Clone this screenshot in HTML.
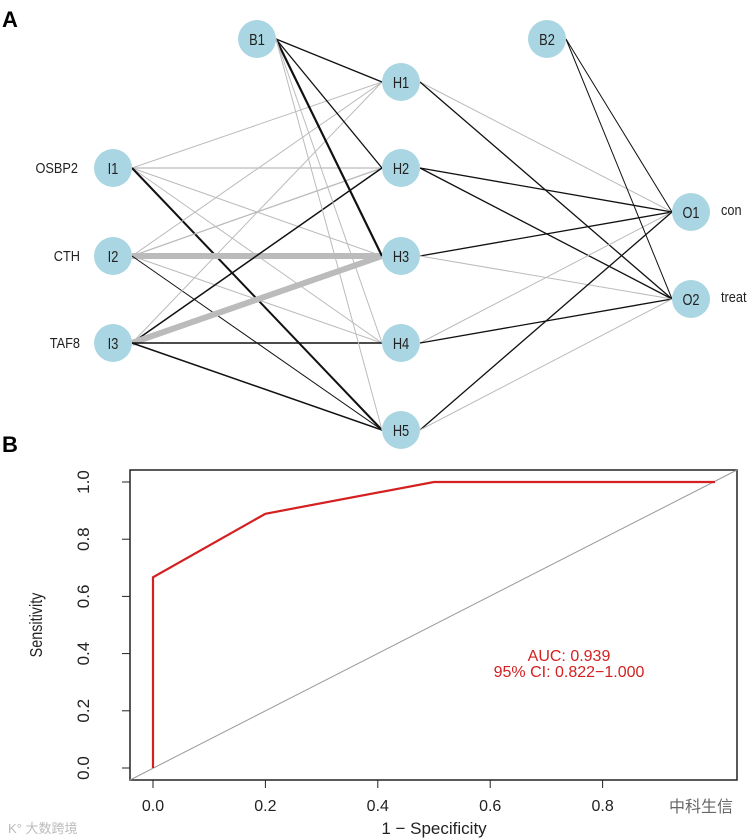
<!DOCTYPE html>
<html><head><meta charset="utf-8">
<style>
body{margin:0;background:#fff;}
svg{display:block;font-family:"Liberation Sans",Arial,sans-serif;}
</style></head>
<body>
<svg id="fig" width="754" height="840" viewBox="0 0 754 840" xmlns="http://www.w3.org/2000/svg">
<text x="2" y="27" font-size="22" font-weight="bold">A</text>
<text x="2" y="452" font-size="22" font-weight="bold">B</text>
<g id="net"></g>
<g id="roc"></g>
<text x="669" y="812" font-size="16" fill="#666" font-family="'Liberation Sans','Noto Sans CJK SC',sans-serif">中科生信</text>
<text x="8" y="833" font-size="13" fill="#bbb" font-family="'Liberation Sans','Noto Sans CJK SC',sans-serif">K° 大数跨境</text>
</svg>
<script>
const NS="http://www.w3.org/2000/svg";
function mk(tag,attrs,parent){const e=document.createElementNS(NS,tag);for(const k in attrs)e.setAttribute(k,attrs[k]);parent.appendChild(e);return e;}
const nodeNames=["I1","I2","I3","B1","H1","H2","H3","H4","H5","B2","O1","O2"];
const nodeX=[113,113,113,257,401,401,401,401,401,547,691,691];
const nodeY=[168,256,343,39,82,168,256,343,430,39,212,299];
const edgeFrom=["I1","I1","I1","I1","I1","I2","I2","I2","I2","I2","I3","I3","I3","I3","I3","B1","B1","B1","B1","B1","H1","H1","H2","H2","H3","H3","H4","H4","H5","H5","B2","B2"];
const edgeTo=["H1","H2","H3","H4","H5","H1","H2","H3","H4","H5","H1","H2","H3","H4","H5","H1","H2","H3","H4","H5","O1","O2","O1","O2","O1","O2","O1","O2","O1","O2","O1","O2"];
const edgeCol=["g","g","g","g","b","g","g","g","g","b","g","b","g","b","b","b","b","b","g","g","g","b","b","b","b","g","g","b","b","g","b","b"];
const edgeW=[1,1.3,1,1,2,1,1.3,6,1,1,1,1.5,6,1.5,1.5,1.3,1.3,2.2,1,1,1,1.3,1.3,1.3,1.3,1,1,1.3,1.3,1,1,1];
const net=document.getElementById('net');
const idx=n=>nodeNames.indexOf(n);
edgeFrom.forEach((f,i)=>{
  const a=idx(f),b=idx(edgeTo[i]);
  const l=mk('line',{x1:nodeX[a]+19,y1:nodeY[a],x2:nodeX[b]-19,y2:nodeY[b],stroke:edgeCol[i]==='b'?'#111':'#bbb','stroke-width':edgeW[i]},net);
  
  
});
nodeNames.forEach((n,i)=>{
  const c=mk('circle',{cx:nodeX[i],cy:nodeY[i],r:19,fill:'#a9d6e2'},net);
  
  
  const t=mk('text',{x:0,y:0,'font-size':16,'text-anchor':'middle',fill:'#222',transform:`translate(${nodeX[i]},${nodeY[i]+6}) scale(0.8,1)`},net);
  t.textContent=n;
  
  
});
const inLabels=["OSBP2","CTH","TAF8"];
const inLabelX=[78,80,80];
inLabels.forEach((s,i)=>{
  const t=mk('text',{x:0,y:0,'font-size':15,'text-anchor':'end',fill:'#222',transform:`translate(${inLabelX[i]},${nodeY[i]+5}) scale(0.85,1)`},net);
  t.textContent=s;
  
  
});
const outLabels=["con","treat"];
outLabels.forEach((s,i)=>{
  const t=mk('text',{x:0,y:0,'font-size':15,fill:'#222',transform:`translate(721,${nodeY[10+i]+3}) scale(0.85,1)`},net);
  t.textContent=s;
  
  
});

const fpr=[0,0,0.2,0.5,1];
const tpr=[0,0.667,0.889,1,1];
const xTicks=[0,0.2,0.4,0.6,0.8,1];
const xTickLabels=["0.0","0.2","0.4","0.6","0.8","1.0"];
const yTicks=[0,0.2,0.4,0.6,0.8,1];
const yTickLabels=["0.0","0.2","0.4","0.6","0.8","1.0"];
const roc=document.getElementById('roc');
const X=v=>153+v*(715-153);
const Y=v=>768-v*(768-482);
let e=mk('rect',{x:130,y:470,width:607,height:310,fill:'none',stroke:'#222','stroke-width':1.5},roc);

e=mk('line',{x1:130,y1:780,x2:737,y2:470,stroke:'#999','stroke-width':1},roc);

xTicks.forEach((v,i)=>{
  if(v>0.9)return;
  const l=mk('line',{x1:X(v),y1:780,x2:X(v),y2:788,stroke:'#222','stroke-width':1},roc);
  
  const t=mk('text',{x:X(v),y:811,'font-size':16,'text-anchor':'middle',fill:'#222'},roc);
  t.textContent=xTickLabels[i];
  
});
yTicks.forEach((v,i)=>{
  const l=mk('line',{x1:122,y1:Y(v),x2:130,y2:Y(v),stroke:'#222','stroke-width':1},roc);
  
  const t=mk('text',{x:0,y:0,'font-size':17,'text-anchor':'middle',fill:'#222',transform:`translate(89,${Y(v)}) rotate(-90)`},roc);
  t.textContent=yTickLabels[i];
  
});
e=mk('text',{x:0,y:0,'font-size':18,'text-anchor':'middle',fill:'#222',transform:'translate(42,625) rotate(-90) scale(0.8,1)'},roc);
e.textContent='Sensitivity';
e=mk('text',{x:434,y:834,'font-size':17,'text-anchor':'middle',fill:'#222'},roc);
e.textContent='1 − Specificity';
e=mk('polyline',{points:fpr.map((v,i)=>X(v)+','+Y(tpr[i])).join(' '),fill:'none',stroke:'#d42020','stroke-width':2.2},roc);

e=mk('text',{x:569,y:661,'font-size':16,'text-anchor':'middle',fill:'#d42020'},roc);
e.textContent='AUC: 0.939';
e=mk('text',{x:569,y:677,'font-size':16,'text-anchor':'middle',fill:'#d42020'},roc);
e.textContent='95% CI: 0.822−1.000';
</script>
</body></html>
